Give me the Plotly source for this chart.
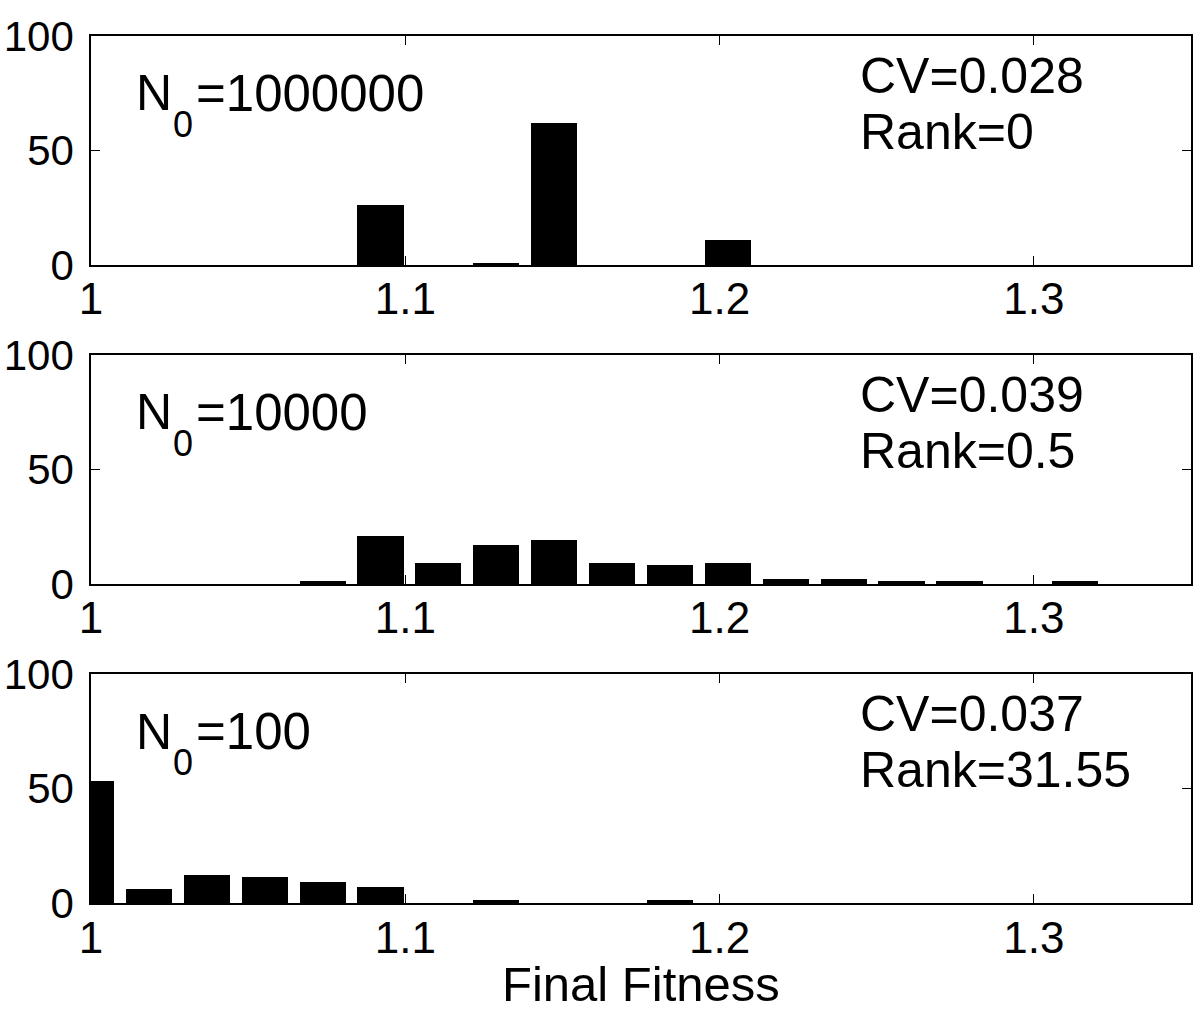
import plotly.graph_objects as go

# Common histogram bin centres (Final Fitness)
bin_centers = [1.0, 1.0184, 1.0368, 1.0553, 1.0737, 1.0921, 1.1105, 1.1289,
               1.1474, 1.1658, 1.1842, 1.2026, 1.2211, 1.2395, 1.2579, 1.2763,
               1.2947, 1.3132, 1.3316, 1.35]

counts_1e6 = [0, 0, 0, 0, 0, 26, 0, 1, 62, 0, 0, 11, 0, 0, 0, 0, 0, 0, 0, 0]
counts_1e4 = [0, 0, 0, 0, 1, 21, 9, 17, 19, 9, 8, 9, 2, 2, 1, 1, 0, 1, 0, 0]
counts_1e2 = [53, 6, 12, 11, 9, 7, 0, 1, 0, 0, 1, 0, 0, 0, 0, 0, 0, 0, 0, 0]

panel_counts = [counts_1e6, counts_1e4, counts_1e2]
panel_n0 = ["1000000", "10000", "100"]
panel_cv = ["CV=0.028", "CV=0.039", "CV=0.037"]
panel_rank = ["Rank=0", "Rank=0.5", "Rank=31.55"]

x_ticks = [1.0, 1.1, 1.2, 1.3]
x_ticktext = ["1", "1.1", "1.2", "1.3"]
y_ticks = [0, 50, 100]
x_title = "Final Fitness"

FONT = "Liberation Sans, Arial, Helvetica, sans-serif"
X_TICK_SIZE = 44
Y_TICK_SIZE = 42
TEXT_SIZE = 50
SUB_SIZE = 36
bar_width = 0.8 * (bin_centers[1] - bin_centers[0])

domains = [[0.736, 1.0], [0.368, 0.6317], [0.0, 0.2637]]

fig = go.Figure()
annotations = []
for i, counts in enumerate(panel_counts):
    ax = "" if i == 0 else str(i + 1)
    fig.add_trace(go.Bar(
        x=bin_centers, y=counts, width=bar_width,
        marker=dict(color="black", line=dict(width=0)),
        xaxis="x" + ax, yaxis="y" + ax, showlegend=False,
    ))
    axis_common = dict(showline=True, linecolor="black", linewidth=1.5, mirror="ticks",
                       ticks="inside", ticklen=9, tickwidth=1, tickcolor="black",
                       showgrid=False, zeroline=False, automargin=False)
    fig.update_layout(**{
        "xaxis" + ax: dict(range=[1.0, 1.35], tickvals=x_ticks, ticktext=x_ticktext,
                           anchor="y" + ax, domain=[0, 1], ticklabelstandoff=-5,
                           tickfont=dict(family=FONT, size=X_TICK_SIZE, color="black"),
                           **axis_common),
        "yaxis" + ax: dict(range=[0, 100], tickvals=y_ticks, anchor="x" + ax,
                           domain=domains[i], ticklabelstandoff=7,
                           tickfont=dict(family=FONT, size=Y_TICK_SIZE, color="black"),
                           **axis_common),
    })
    xr = "x" + ax + " domain"
    yr = "y" + ax + " domain"
    tf = dict(family=FONT, size=TEXT_SIZE, color="black")
    annotations.append(dict(text="N", xref=xr, yref=yr,
                            x=0.0395, y=0.750, xanchor="left", yanchor="middle",
                            showarrow=False, font=tf))
    annotations.append(dict(text="0", xref=xr, yref=yr,
                            x=0.0395, y=0.750, xshift=37, yshift=-31,
                            xanchor="left", yanchor="middle", showarrow=False,
                            font=dict(family=FONT, size=SUB_SIZE, color="black")))
    annotations.append(dict(text="=" + panel_n0[i], xref=xr, yref=yr,
                            x=0.0395, y=0.750, xshift=60,
                            xanchor="left", yanchor="middle", showarrow=False,
                            font=dict(family=FONT, size=51, color="black")))
    annotations.append(dict(text=panel_cv[i], xref=xr, yref=yr,
                            x=0.697, y=0.826, xanchor="left", yanchor="middle",
                            showarrow=False, font=tf))
    annotations.append(dict(text=panel_rank[i], xref=xr, yref=yr,
                            x=0.697, y=0.580, xanchor="left", yanchor="middle",
                            showarrow=False, font=tf))

annotations.append(dict(text=x_title, xref="paper", yref="paper", x=0.5, y=-0.0929,
                        xanchor="center", yanchor="middle", showarrow=False,
                        font=dict(family=FONT, size=49, color="black")))

fig.update_layout(
    width=1200, height=1020,
    margin=dict(l=91, r=9, t=36, b=117),
    paper_bgcolor="white", plot_bgcolor="white",
    bargap=0, annotations=annotations,
    font=dict(family=FONT, color="black"),
)

fig.write_html("out.html",
               config={"displayModeBar": False},
               post_script="document.body.style.margin='0';document.body.style.padding='0';")
